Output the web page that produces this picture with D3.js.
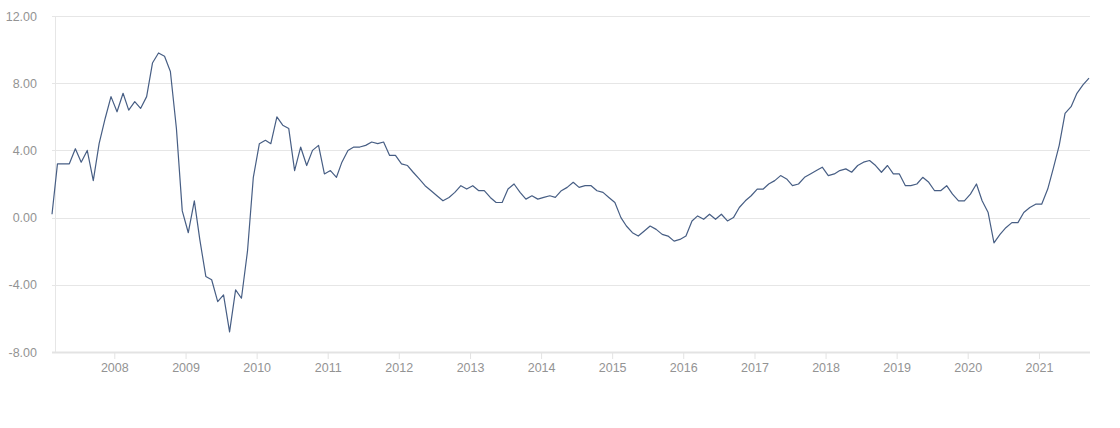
<!DOCTYPE html>
<html>
<head>
<meta charset="utf-8">
<script src="https://cdn.jsdelivr.net/npm/d3@7"></script>
<style>
	html, body { margin: 0; padding: 0; background: #fff; }
	svg { display: block; font-family: Roboto, 'Open Sans', sans-serif; }
	.grid line { stroke: #e6e6e6; stroke-width: 1; }
	.axis text { fill: #939393; font-size: 12.5px; }
	.line { fill: none; stroke: #475e84; stroke-width: 1.2; stroke-linejoin: round; }
</style>
</head>
<body>
<svg id="chart"></svg>
<script>
// monthly series, first value is Feb 2007 (plotted mid-month)
const START = new Date(2007, 1, 15);
const values = [
	0.2, 3.2, 3.2, 3.2, 4.1, 3.3, 4.0, 2.2, 4.4, 5.9, 7.2,
	6.3, 7.4, 6.4, 6.9, 6.5, 7.2, 9.2, 9.8, 9.6, 8.7, 5.3, 0.4,
	-0.9, 1.0, -1.3, -3.5, -3.7, -5.0, -4.6, -6.8, -4.3, -4.8, -2.0, 2.4,
	4.4, 4.6, 4.4, 6.0, 5.5, 5.3, 2.8, 4.2, 3.1, 4.0, 4.3, 2.6,
	2.8, 2.4, 3.3, 4.0, 4.2, 4.2, 4.3, 4.5, 4.4, 4.5, 3.7, 3.7,
	3.2, 3.1, 2.7, 2.3, 1.9, 1.6, 1.3, 1.0, 1.2, 1.5, 1.9, 1.7,
	1.9, 1.6, 1.6, 1.2, 0.9, 0.9, 1.7, 2.0, 1.5, 1.1, 1.3, 1.1,
	1.2, 1.3, 1.2, 1.6, 1.8, 2.1, 1.8, 1.9, 1.9, 1.6, 1.5, 1.2,
	0.9, 0.0, -0.5, -0.9, -1.1, -0.8, -0.5, -0.7, -1.0, -1.1, -1.4, -1.3,
	-1.1, -0.2, 0.1, -0.1, 0.2, -0.1, 0.2, -0.2, 0.0, 0.6, 1.0, 1.3,
	1.7, 1.7, 2.0, 2.2, 2.5, 2.3, 1.9, 2.0, 2.4, 2.6, 2.8, 3.0,
	2.5, 2.6, 2.8, 2.9, 2.7, 3.1, 3.3, 3.4, 3.1, 2.7, 3.1, 2.6,
	2.6, 1.9, 1.9, 2.0, 2.4, 2.1, 1.6, 1.6, 1.9, 1.4, 1.0, 1.0,
	1.4, 2.0, 1.0, 0.3, -1.5, -1.0, -0.6, -0.3, -0.3, 0.3, 0.6, 0.8,
	0.8, 1.7, 2.9, 4.3, 6.2, 6.6, 7.4, 7.9, 8.3
];
const yTicks = [-8, -4, 0, 4, 8, 12];
const xTickYears = [2008, 2009, 2010, 2011, 2012, 2013, 2014, 2015, 2016, 2017, 2018, 2019, 2020, 2021];

const width = 1120;
const height = 428;
const margin = { top: 16, right: 31, bottom: 76, left: 52 };

const $svg = d3.select('#chart').attr('width', width).attr('height', height);

const data = values.map((v, i) => ({ date: d3.timeMonth.offset(START, i), value: v }));

const x = d3.scaleTime()
	.domain(d3.extent(data, d => d.date))
	.range([margin.left, width - margin.right]);

const y = d3.scaleLinear()
	.domain([-8, 12])
	.range([height - margin.bottom, margin.top]);

// plain hyphen for negatives, like the original labels
const fmt = d => d3.format('.2f')(d).replace('\u2212', '-');

// horizontal gridlines
$svg.append('g')
	.attr('class', 'grid')
	.selectAll('line')
	.data(yTicks)
	.join('line')
	.attr('x1', margin.left)
	.attr('x2', width - margin.right + 1)
	.attr('y1', d => Math.round(y(d)) + 0.5)
	.attr('y2', d => Math.round(y(d)) + 0.5);

// left axis rule
$svg.append('line')
	.attr('x1', 55.5).attr('x2', 55.5)
	.attr('y1', y(12)).attr('y2', y(-8))
	.attr('stroke', '#e6e6e6');

// bottom axis line, a bit heavier
$svg.append('line')
	.attr('x1', margin.left).attr('x2', width - margin.right + 1)
	.attr('y1', Math.round(y(-8)) + 0.5).attr('y2', Math.round(y(-8)) + 0.5)
	.attr('stroke', '#e3e3e3').attr('stroke-width', 2);

const yAxis = d3.axisLeft(y)
	.tickValues(yTicks)
	.tickSize(0)
	.tickPadding(0)
	.tickFormat(fmt);

$svg.append('g')
	.attr('class', 'axis')
	.attr('transform', 'translate(37,0)')
	.call(yAxis)
	.call(g => g.select('.domain').remove());

const xAxis = d3.axisBottom(x)
	.tickValues(xTickYears.map(yr => new Date(yr, 0, 1)))
	.tickSize(7)
	.tickPadding(4)
	.tickFormat(d3.timeFormat('%Y'));

$svg.append('g')
	.attr('class', 'axis')
	.attr('transform', `translate(0,${Math.round(y(-8))})`)
	.call(xAxis)
	.call(g => g.select('.domain').remove())
	.call(g => g.selectAll('.tick line').attr('stroke', '#e3e3e3'));

const line = d3.line()
	.x(d => x(d.date))
	.y(d => y(d.value));

$svg.append('path')
	.datum(data)
	.attr('class', 'line')
	.attr('d', line);
</script>
</body>
</html>
